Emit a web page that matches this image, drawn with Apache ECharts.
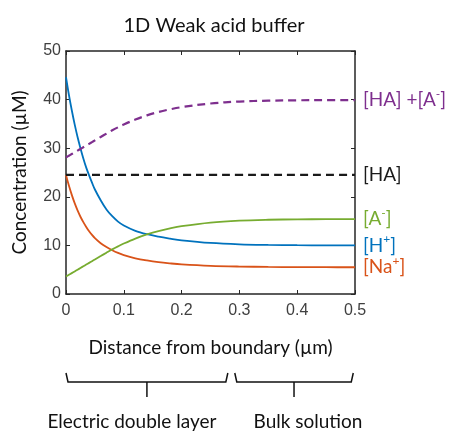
<!DOCTYPE html>
<html>
<head>
<meta charset="utf-8">
<script src="https://cdn.jsdelivr.net/npm/echarts@6/dist/echarts.min.js"></script>
<style>html,body{margin:0;padding:0;background:#fff;}#c{width:450px;height:432px;}</style>
</head>
<body>
<div id="c"></div>
<script>
// Distance from boundary (µm)
const distance = [0, 0.005, 0.01, 0.015, 0.02, 0.025, 0.03, 0.035, 0.04, 0.045, 0.05, 0.06, 0.07, 0.08, 0.09, 0.10, 0.12, 0.14, 0.16, 0.18, 0.20, 0.25, 0.30, 0.35, 0.40, 0.45, 0.50];
// Concentrations (µM)
const hPlus  = [44.6, 41.0, 37.8, 34.9, 32.3, 30.0, 27.9, 26.0, 24.4, 22.9, 21.5, 19.3, 17.4, 16.0, 14.9, 14.1, 13.0, 12.3, 11.8, 11.4, 11.05, 10.5, 10.22, 10.1, 10.04, 10.01, 10.0];
const naPlus = [24.5, 22.3, 20.4, 18.7, 17.2, 15.9, 14.8, 13.8, 12.9, 12.15, 11.5, 10.45, 9.65, 9.0, 8.45, 8.0, 7.35, 6.9, 6.55, 6.3, 6.1, 5.8, 5.65, 5.57, 5.53, 5.51, 5.5];
const aMinus = [3.6, 3.95, 4.3, 4.65, 5.0, 5.35, 5.7, 6.05, 6.4, 6.75, 7.1, 7.8, 8.5, 9.18, 9.8, 10.38, 11.4, 12.25, 12.95, 13.5, 13.95, 14.7, 15.1, 15.28, 15.36, 15.39, 15.4];
const haConc = [24.5, 24.5, 24.5, 24.5, 24.5, 24.5, 24.5, 24.5, 24.5, 24.5, 24.5, 24.5, 24.5, 24.5, 24.5, 24.5, 24.5, 24.5, 24.5, 24.5, 24.5, 24.5, 24.5, 24.5, 24.5, 24.5, 24.5];
const total  = [28.1, 28.45, 28.8, 29.15, 29.5, 29.85, 30.2, 30.55, 30.9, 31.25, 31.6, 32.3, 33.0, 33.68, 34.3, 34.88, 35.9, 36.75, 37.45, 38.0, 38.45, 39.2, 39.6, 39.78, 39.86, 39.89, 39.9];
// Ticks
const xTicks = [0, 0.1, 0.2, 0.3, 0.4, 0.5];
const yTicks = [0, 10, 20, 30, 40, 50];
// Region annotations (x extents in µm)
const regions = [
  {name: 'Electric double layer', from: 0, to: 0.28, labelShift: -15},
  {name: 'Bulk solution', from: 0.292, to: 0.497, labelShift: 14}
];

const TXT = 'Lato, "Open Sans", sans-serif';
const NUM = '"Liberation Sans", Arial, sans-serif';
const AX = '#262626';

const chart = echarts.init(document.getElementById('c'), null, {renderer: 'canvas'});
const pts = arr => distance.map((d, i) => [d, arr[i]]);

function lineSeries(name, arr, color, dashed, label) {
  return {
    name, type: 'line', data: pts(arr), smooth: 0.35,
    showSymbol: false, symbol: 'none',
    xAxisIndex: 0, yAxisIndex: 0,
    lineStyle: {color, width: dashed ? 2.2 : 1.8, type: dashed ? [8, 5] : 'solid'},
    endLabel: {
      show: true, distance: 8, formatter: label, color,
      fontFamily: TXT, fontSize: 19,
      rich: {
        a: {fontFamily: TXT, fontSize: 19, color},
        s: {fontFamily: TXT, fontSize: 12, color, padding: [0, 0, 12, 0]}
      }
    },
    emphasis: {disabled: true}
  };
}

const option = {
  animation: false,
  backgroundColor: '#fff',
  grid: {left: 66, right: 95, top: 51, bottom: 138, containLabel: false},
  xAxis: [{
    type: 'value', min: 0, max: 0.5, interval: 0.1, position: 'bottom',
    name: 'Distance from boundary (µm)', nameLocation: 'middle', nameGap: 44,
    nameTextStyle: {fontFamily: TXT, fontSize: 19, color: '#111'},
    axisLine: {show: true, onZero: false, lineStyle: {color: AX, width: 1.5}},
    axisTick: {show: true, inside: true, length: 4, lineStyle: {color: AX}},
    axisLabel: {fontFamily: NUM, fontSize: 16, color: '#404040', margin: 9,
      formatter: v => { const t = xTicks.find(k => Math.abs(k - v) < 1e-9); return t === undefined ? '' : String(t); }},
    splitLine: {show: false}
  }, {
    type: 'value', min: 0, max: 0.5, interval: 0.1, position: 'top',
    axisLine: {show: true, onZero: false, lineStyle: {color: AX, width: 1.5}},
    axisTick: {show: true, inside: true, length: 4, lineStyle: {color: AX}},
    axisLabel: {show: false}, splitLine: {show: false}
  }],
  yAxis: [{
    type: 'value', min: 0, max: 50, interval: 10, position: 'left',
    name: 'Concentration (µM)', nameLocation: 'middle', nameGap: 37,
    nameTextStyle: {fontFamily: TXT, fontSize: 19, color: '#111'},
    axisLine: {show: true, onZero: false, lineStyle: {color: AX, width: 1.5}},
    axisTick: {show: true, inside: true, length: 4, lineStyle: {color: AX}},
    axisLabel: {fontFamily: NUM, fontSize: 16, color: '#404040', margin: 5,
      formatter: v => { const t = yTicks.find(k => Math.abs(k - v) < 1e-9); return t === undefined ? '' : String(t); }},
    splitLine: {show: false}
  }, {
    type: 'value', min: 0, max: 50, interval: 10, position: 'right',
    axisLine: {show: true, onZero: false, lineStyle: {color: AX, width: 1.5}},
    axisTick: {show: true, inside: true, length: 4, lineStyle: {color: AX}},
    axisLabel: {show: false}, splitLine: {show: false}
  }],
  series: [
    lineSeries('Na+', naPlus, '#D95319', false, '{a|[Na}{s|+}{a|]}'),
    lineSeries('H+', hPlus, '#0072BD', false, '{a|[H}{s|+}{a|]}'),
    lineSeries('A-', aMinus, '#77AC30', false, '{a|[A}{s|-}{a|]}'),
    lineSeries('HA', haConc, '#1a1a1a', true, '{a|[HA]}'),
    lineSeries('HA+A-', total, '#7E2F8E', true, '{a|[HA] +[A}{s|-}{a|]}')
  ],
  graphic: [{
    type: 'text', x: 214, y: 26,
    style: {text: '1D Weak acid buffer', fontFamily: TXT, fontSize: 20, fill: '#111', textAlign: 'center', textVerticalAlign: 'middle'}
  }]
};
chart.setOption(option);

// Braces below the x axis, placed through the x scale
const g = [];
regions.forEach(r => {
  const x0 = chart.convertToPixel({xAxisIndex: 0}, r.from);
  const x1 = chart.convertToPixel({xAxisIndex: 0}, r.to);
  const xm = (x0 + x1) / 2;
  g.push({type: 'polyline', shape: {points: [[x0, 373], [x0 + 2, 382], [x1 - 2, 382], [x1, 373]]},
    style: {stroke: '#111', lineWidth: 1.5, fill: null}});
  g.push({type: 'line', shape: {x1: xm, y1: 382, x2: xm, y2: 397}, style: {stroke: '#111', lineWidth: 1.5}});
  g.push({type: 'text', x: xm + r.labelShift, y: 422,
    style: {text: r.name, fontFamily: TXT, fontSize: 19, fill: '#111', textAlign: 'center', textVerticalAlign: 'middle'}});
});
chart.setOption({graphic: option.graphic.concat(g)});
</script>
</body>
</html>
